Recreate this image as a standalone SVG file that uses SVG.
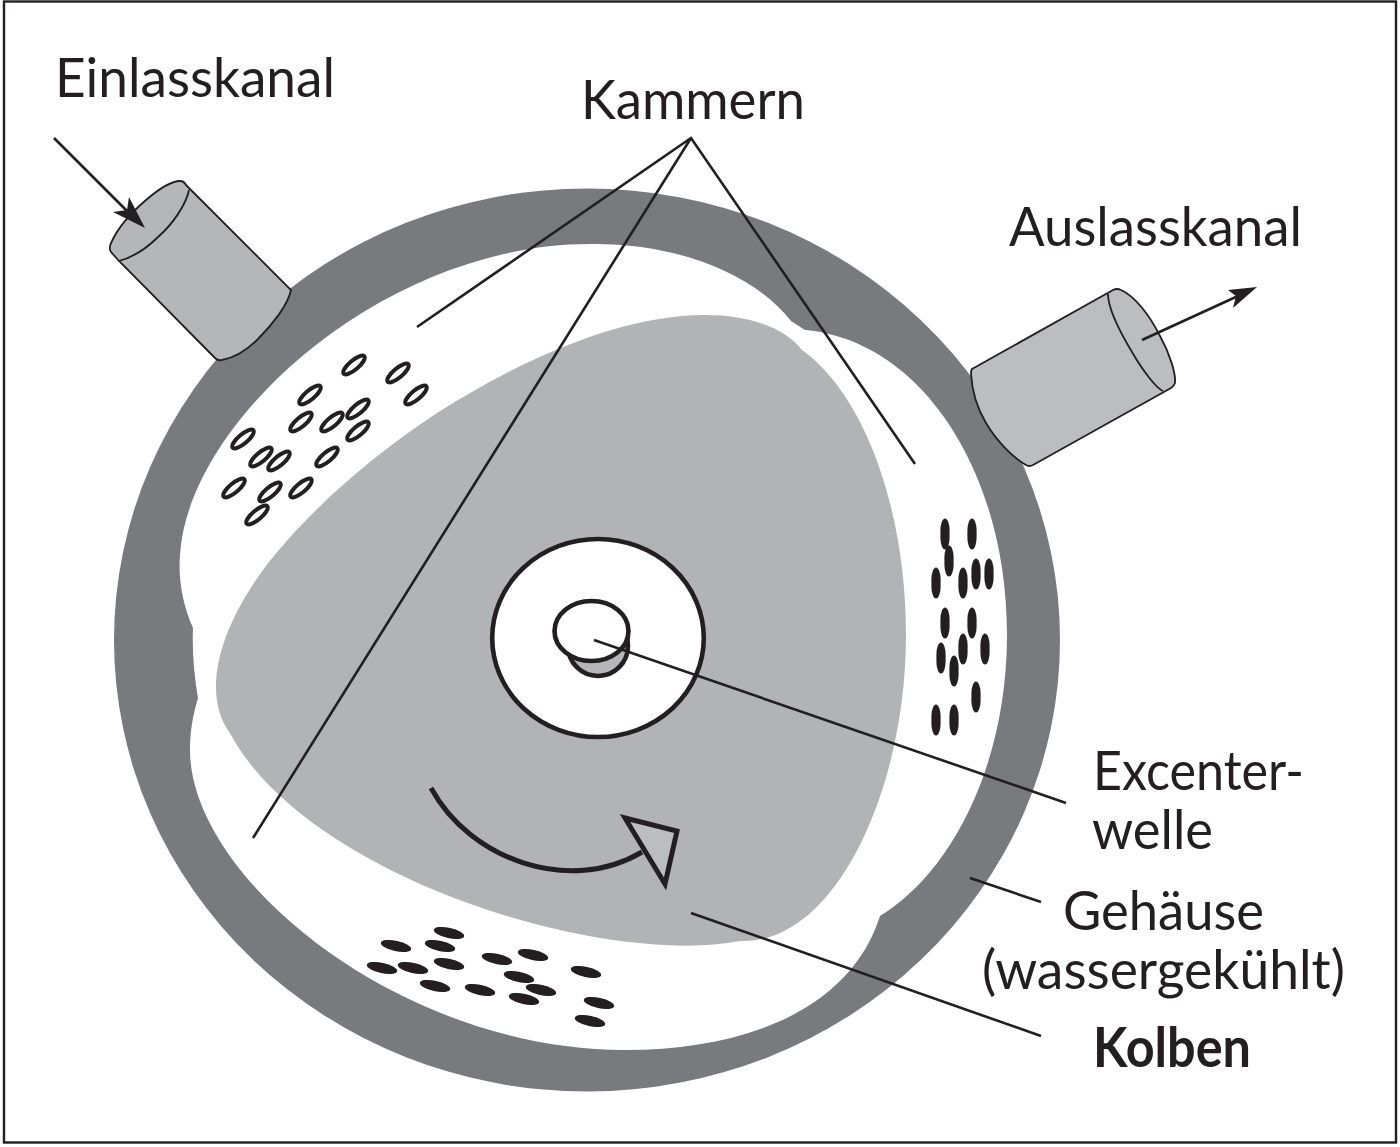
<svg xmlns="http://www.w3.org/2000/svg" width="1400" height="1147" viewBox="0 0 1400 1147">
<style>
text{font-family:"Lato","Open Sans","Liberation Sans",sans-serif;font-size:55px;font-weight:400;fill:#231f20}
.ln{fill:none;stroke:#231f20;stroke-width:2.6}
.pipe{fill:#b5b6b8;stroke:#231f20;stroke-width:1.8}
.arc{fill:none;stroke:#231f20;stroke-width:1.8}
.th{fill:none;stroke:#231f20;stroke-width:5}
.o{fill:#fff;stroke:#231f20;stroke-width:4}
.v,.h{fill:#231f20}
</style>
<defs>
<ellipse id="oe" class="o" rx="13.500" ry="4.600" transform="rotate(-40)"/>
<rect id="ve" x="-4.600" y="-15.500" width="9.200" height="31" rx="4.600" ry="12"/>
<ellipse id="he" rx="15.500" ry="5.200" transform="rotate(12)"/>
</defs>
<rect width="1400" height="1147" fill="#fff"/>
<rect x="4" y="1.500" width="1392" height="1141" fill="none" stroke="#231f20" stroke-width="2.4"/>
<g id="gehaeuse">
<ellipse cx="587" cy="640" rx="473" ry="451.500" fill="#797a7e"/>
<path fill="#fff" d="M193 628C183 605 178 580 180 555C188 420 385 244 590 244C680 243 755 275 791 321L805 330C920 340 1007 470 1007 635C1007 760 955 870 880 916C850 1010 745 1050 625 1050C400 1050 190 878 190 750C190 730 193 715 198 698C194 675 192 650 193 628Z"/>
</g>
<g id="kolben">
<path fill="#b2b3b5" d="M802 350C865 395 906 510 906 635C906 790 835 945 740 941C600 968 305 875 230 733C205 700 212 640 263 570C300 520 365 460 437 413C520 360 620 315 705 315C750 315 785 328 802 350Z"/>
</g>
<g id="welle">
<ellipse cx="598" cy="638" rx="105.800" ry="99" fill="#fff" stroke="#231f20" stroke-width="4.600"/>
<circle cx="598" cy="646" r="30" fill="#b5b6b8" stroke="#231f20" stroke-width="4.600"/>
<ellipse cx="591.500" cy="631" rx="37" ry="30" fill="#fff" stroke="#231f20" stroke-width="4.600"/>
</g>
<g id="drehpfeil">
<path class="th" d="M431 788C470 860 570 895 642 852"/>
<path d="M625 818L677 831L665 884Z" fill="#bcbdc0" stroke="#231f20" stroke-width="5"/>
</g>
<g id="einlass">
<path class="pipe" d="M186 185L291 290C288 305 272 325 258 339C245 352 232 358 222 360Q218 361 215 358L119 261L111 252Q108 248 112 241C118 228 132 212 146 200C160 188 172 181 180 181Q184 181 186 185Z"/>
<path class="arc" d="M189 190C186 205 172 225 158 237C145 250 130 258 119 261"/>
</g>
<g id="auslass">
<path class="pipe" d="M972 369L1113 290Q1117 288 1121 290C1135 296 1150 316 1160 336C1170 354 1176 374 1175 383Q1174 386 1171 388L1033 465Q1029 467 1026 465C1012 457 996 440 986 423C977 408 972 390 971 374Q971 370 972 369Z" style="fill:#bcbdc0"/>
<path class="arc" d="M1108 294C1108 308 1120 332 1132 352C1143 371 1156 388 1163 391"/>
</g>
<g id="kammer-punkte">
<use href="#oe" x="354" y="365"/><use href="#oe" x="398" y="373"/><use href="#oe" x="416" y="395"/><use href="#oe" x="310" y="395"/><use href="#oe" x="301" y="422"/><use href="#oe" x="332" y="422"/><use href="#oe" x="358" y="409"/><use href="#oe" x="358" y="431"/><use href="#oe" x="243" y="439"/><use href="#oe" x="261" y="457"/><use href="#oe" x="279" y="461"/><use href="#oe" x="327" y="457"/><use href="#oe" x="234" y="488"/><use href="#oe" x="270" y="492"/><use href="#oe" x="301" y="488"/><use href="#oe" x="257" y="515"/>
<g class="v">
<use href="#ve" x="945" y="534"/><use href="#ve" x="972" y="534"/><use href="#ve" x="949" y="561"/><use href="#ve" x="976" y="574"/><use href="#ve" x="989" y="574"/><use href="#ve" x="936" y="583"/><use href="#ve" x="963" y="583"/><use href="#ve" x="945" y="623"/><use href="#ve" x="972" y="623"/><use href="#ve" x="963" y="649"/><use href="#ve" x="985" y="649"/><use href="#ve" x="941" y="658"/><use href="#ve" x="954" y="671"/><use href="#ve" x="976" y="697"/><use href="#ve" x="936" y="720"/><use href="#ve" x="954" y="720"/>
</g>
<g class="h">
<use href="#he" x="449" y="933"/><use href="#he" x="396" y="946"/><use href="#he" x="440" y="946"/><use href="#he" x="449" y="964"/><use href="#he" x="382" y="968"/><use href="#he" x="413" y="968"/><use href="#he" x="497" y="959"/><use href="#he" x="533" y="955"/><use href="#he" x="519" y="977"/><use href="#he" x="586" y="972"/><use href="#he" x="435" y="986"/><use href="#he" x="480" y="990"/><use href="#he" x="541" y="990"/><use href="#he" x="524" y="999"/><use href="#he" x="599" y="1003"/><use href="#he" x="590" y="1021"/>
</g>
</g>
<g id="connectors">
<path class="ln" d="M54 138L128 212"/>
<path fill="#231f20" d="M145 228L113 212L127 210L129 197Z"/>
<path class="ln" d="M1142 340L1238 296"/>
<path fill="#231f20" d="M1257 287L1233 308L1236 296L1228 290Z"/>
<path class="ln" d="M417 327L691 138L915 464M691 138L253 838"/>
<path class="ln" d="M594 640L1066 803M970 878L1041 902M691 913L1041 1036"/>
</g>
<g id="labels">
<text x="55" y="97" textLength="280" lengthAdjust="spacingAndGlyphs">Einlasskanal</text>
<text x="581" y="119" textLength="224" lengthAdjust="spacingAndGlyphs">Kammern</text>
<text x="1009" y="246" textLength="293" lengthAdjust="spacingAndGlyphs">Auslasskanal</text>
<text x="1093" y="790" textLength="211" lengthAdjust="spacingAndGlyphs">Excenter-</text>
<text x="1092" y="849" textLength="121" lengthAdjust="spacingAndGlyphs">welle</text>
<text x="1063" y="930" textLength="201" lengthAdjust="spacingAndGlyphs">Gehäuse</text>
<text x="982" y="989" textLength="363" lengthAdjust="spacingAndGlyphs">(wassergekühlt)</text>
<text x="1093" y="1067" textLength="158" lengthAdjust="spacingAndGlyphs" style="font-weight:700">Kolben</text>
</g>
</svg>
